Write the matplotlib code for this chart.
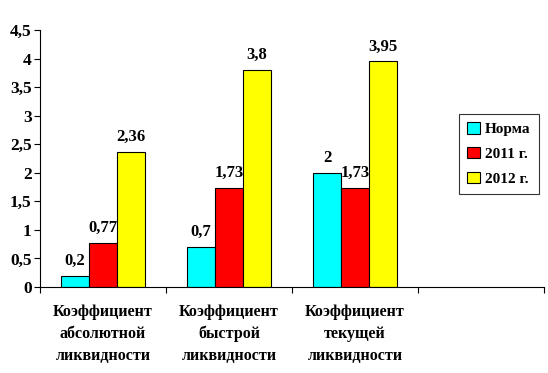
import matplotlib.pyplot as plt
import numpy as np

plt.rcParams["font.family"] = ["Liberation Serif", "DejaVu Serif"]
plt.rcParams["font.weight"] = "bold"

categories = ["Коэффициент\nабсолютной\nликвидности",
              "Коэффициент\nбыстрой\nликвидности",
              "Коэффициент\nтекущей\nликвидности"]
series = ["Норма", "2011 г.", "2012 г."]
norm = [0.2, 0.7, 2.0]
y2011 = [0.77, 1.73, 1.73]
y2012 = [2.36, 3.8, 3.95]
labels_norm = ["0,2", "0,7", "2"]
labels_2011 = ["0,77", "1,73", "1,73"]
labels_2012 = ["2,36", "3,8", "3,95"]
colors = ["#00FFFF", "#FF0000", "#FFFF00"]

fig = plt.figure(figsize=(5.48, 3.73), dpi=100)
ax = fig.add_axes([40 / 548, 86 / 373, 504 / 548, 257 / 373])

centers = np.arange(len(categories)) + 0.5
w = 0.222
for k, (vals, labs) in enumerate(zip([norm, y2011, y2012],
                                     [labels_norm, labels_2011, labels_2012])):
    xs = centers + (k - 1) * w
    ax.bar(xs, vals, width=w, color=colors[k], edgecolor="black",
           linewidth=0.8, label=series[k])
    for x, v, t in zip(xs, vals, labs):
        ax.text(x, v + 0.12, t, ha="center", va="bottom", fontsize=12,
                fontweight="bold")

ax.set_xlim(0, 4)
ax.set_ylim(0, 4.5)
ax.set_yticks(np.arange(0, 4.51, 0.5))
ax.set_yticklabels(["0", "0,5", "1", "1,5", "2", "2,5", "3", "3,5", "4", "4,5"],
                   fontsize=12.5, fontweight="bold")
ax.set_xticks([0, 1, 2, 3, 4])
ax.set_xticklabels([])
ax.set_xticks(centers, minor=True)
ax.set_xticklabels(categories, minor=True, fontsize=11.5, fontweight="bold",
                   linespacing=1.5)
ax.tick_params(axis="x", which="minor", length=0, pad=12)
ax.tick_params(axis="x", which="major", length=4, direction="out")
ax.tick_params(axis="y", length=4, direction="out", pad=2)
for s in ["top", "right"]:
    ax.spines[s].set_visible(False)
ax.spines["left"].set_linewidth(0.8)
ax.spines["bottom"].set_linewidth(0.8)

leg = ax.legend(loc="upper left", bbox_to_anchor=(419 / 504, 0.675),
                frameon=True, fancybox=False, edgecolor="black",
                prop={"size": 11, "weight": "bold"}, handlelength=0.8,
                handleheight=0.8, handletextpad=0.35, labelspacing=0.7,
                borderpad=0.55, borderaxespad=0)
leg.get_frame().set_linewidth(0.8)

fig.savefig("out.png", dpi=100)
